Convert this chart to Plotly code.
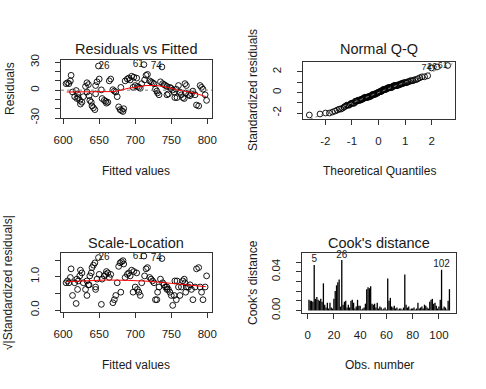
import numpy as np
from statistics import NormalDist
import plotly.graph_objects as go

W, H = 486, 389

fitted = [604, 606, 608, 611, 613, 616, 619, 621, 623, 624,
          620, 628, 626, 631, 633, 635, 633, 636, 637, 639,
          640, 642, 644, 645, 647, 649, 650, 645, 653, 654,
          657, 659, 660, 662, 664, 666, 669, 671, 673, 675,
          677, 679, 681, 683, 684, 686, 689, 691, 693, 697,
          700, 703, 705, 707, 709, 722, 713, 715, 717, 720,
          712, 724, 726, 728, 730, 731, 746, 735, 738, 740,
          742, 744, 744, 737, 748, 750, 752, 754, 755, 758,
          760, 762, 764, 766, 768, 769, 771, 774, 776, 778,
          780, 783, 785, 788, 790, 792, 794, 797, 799, 610,
          618, 698, 702, 733, 757, 770, 695, 680]
residuals = [7, 8, 7, 16, -2, -7, -9, -8, -11, -15,
             -4, -7, -13, 4, 8, 6, -2, -6, -11, -13,
             -17, -19, -21, 5, 9, 26, 12, -4, 0.3, -9,
             -11, -12, -14, -13, 10, 12, 0.5, -1, -2, -7,
             -18, -21, -22, -23, -20, 10, 12, 13, 11, 3,
             5, 4, 3, 2, 7, 9, 11, 16, 17, 10,
             27.5, 8, 7, 1, -1, -3, -4, 9, 7, 6,
             5, 4, -5, 25, 3, 2, 0.2, -2, -8, -8,
             5, -2, -5, -8, -9, 7, 5, -5, -6, -4,
             -1, -5, -16, -17, 5, 3, 1, -5, -11, 10,
             -0.4, 14, 13, -5, 1, -3, 15, 3]
cooks = [0.011, 0.010, 0.010, 0.009, 0.047, 0.012, 0.014, 0.011, 0.010, 0.012,
         0.009, 0.028, 0.006, 0.003, 0.008, 0.002, 0.008, 0.003, 0.002, 0.012,
         0.020, 0.026, 0.029, 0.032, 0.004, 0.052, 0.006, 0.009, 0.010, 0.003,
         0.006, 0.003, 0.010, 0.011, 0.008, 0.002, 0.004, 0.011, 0.005, 0.005,
         0.001, 0.002, 0.003, 0.007, 0.022, 0.024, 0.023, 0.025, 0.007, 0.006,
         0.007, 0.003, 0.008, 0.002, 0.004, 0.003, 0.001, 0.002, 0.003, 0.001,
         0.033, 0.010, 0.013, 0.004, 0.003, 0.005, 0.002, 0.003, 0.001, 0.002,
         0.002, 0.001, 0.003, 0.037, 0.006, 0.003, 0.004, 0.001, 0.002, 0.002,
         0.003, 0.001, 0.002, 0.008, 0.002, 0.003, 0.004, 0.002, 0.006, 0.005,
         0.003, 0.002, 0.009, 0.011, 0.012, 0.007, 0.008, 0.005, 0.002, 0.004,
         0.011, 0.042, 0.002, 0.004, 0.003, 0.001, 0.010, 0.022]
sigma = 10.5

lowess_rf_x = [605, 620, 640, 660, 670, 680, 690, 700, 715, 730, 745, 760, 775, 790, 798]
lowess_rf_y = [-2, -2, -2, -2, -1.5, 0, 2, 3, 5, 5, 3, 0, -2, -5, -7]
lowess_sl_x = [605, 630, 660, 690, 720, 750, 775, 798]
lowess_sl_y = [0.85, 0.88, 0.9, 0.89, 0.86, 0.8, 0.75, 0.7]

# ---- derived ----
obs = np.arange(1, len(fitted) + 1)
fitted_a = np.array(fitted, float)
std = np.array(residuals, float) / sigma
sqrt_abs = np.sqrt(np.abs(std))
n = len(std)
order = np.argsort(std)
theo = np.array([NormalDist().inv_cdf((i + 0.5) / n) for i in range(n)])
qq_y = std[order]
qq_ids = obs[order]
top_res = np.argsort(-np.abs(std))[:3]
top_cook = np.argsort(-np.array(cooks))[:3]

FONT = "Liberation Sans, Arial, sans-serif"
TXT = "#1a1a1a"

def dx(a, b):
    return [a / W, b / W]

def dy(top, bottom):
    return [1 - bottom / H, 1 - top / H]

fig = go.Figure()
mk = dict(symbol="circle-open", size=5.8, color="black", line=dict(width=0.9, color="black"))

# panel 1
fig.add_trace(go.Scatter(x=fitted, y=residuals, mode="markers", marker=mk, xaxis="x", yaxis="y"))
fig.add_trace(go.Scatter(x=lowess_rf_x, y=lowess_rf_y, mode="lines", line=dict(color="red", width=1),
                         xaxis="x", yaxis="y"))
mid = (fitted_a.min() + fitted_a.max()) / 2
for i in top_res:
    fig.add_trace(go.Scatter(x=[fitted[i]], y=[residuals[i]], mode="text", text=[str(obs[i])],
                             textposition="middle left" if fitted[i] > mid else "middle right",
                             textfont=dict(size=10, color=TXT, family=FONT), xaxis="x", yaxis="y"))

# panel 2
fig.add_trace(go.Scatter(x=theo, y=qq_y, mode="markers", marker=mk, xaxis="x2", yaxis="y2"))
q_y = np.quantile(std, [0.25, 0.75])
q_x = np.array([NormalDist().inv_cdf(0.25), NormalDist().inv_cdf(0.75)])
slope = (q_y[1] - q_y[0]) / (q_x[1] - q_x[0])
inter = q_y[0] - slope * q_x[0]
lx = np.array([-3.0, 3.0])
fig.add_trace(go.Scatter(x=lx, y=inter + slope * lx, mode="lines",
                         line=dict(color="gray", width=1, dash="dot"), xaxis="x2", yaxis="y2"))
for k in range(n - 3, n):
    fig.add_trace(go.Scatter(x=[theo[k]], y=[qq_y[k]], mode="text", text=[str(qq_ids[k])],
                             textposition="middle left",
                             textfont=dict(size=9, color=TXT, family=FONT), xaxis="x2", yaxis="y2"))

# panel 3
fig.add_trace(go.Scatter(x=fitted, y=sqrt_abs, mode="markers", marker=mk, xaxis="x3", yaxis="y3"))
fig.add_trace(go.Scatter(x=lowess_sl_x, y=lowess_sl_y, mode="lines", line=dict(color="red", width=1),
                         xaxis="x3", yaxis="y3"))
for i in top_res:
    fig.add_trace(go.Scatter(x=[fitted[i]], y=[sqrt_abs[i]], mode="text", text=[str(obs[i])],
                             textposition="middle left" if fitted[i] > mid else "middle right",
                             textfont=dict(size=10, color=TXT, family=FONT), xaxis="x3", yaxis="y3"))

# panel 4
bx, by = [], []
for o, c in zip(obs, cooks):
    bx += [o, o, None]
    by += [0, c, None]
fig.add_trace(go.Scatter(x=bx, y=by, mode="lines", line=dict(color="black", width=1.3),
                         xaxis="x4", yaxis="y4"))
for i in top_cook:
    fig.add_trace(go.Scatter(x=[obs[i]], y=[cooks[i]], mode="text", text=[str(obs[i])],
                             textposition="top center", cliponaxis=False,
                             textfont=dict(size=10, color=TXT, family=FONT), xaxis="x4", yaxis="y4"))

fig.add_shape(type="line", xref="x", yref="y", x0=597, x1=806.5, y0=0, y1=0,
              line=dict(color="gray", width=1, dash="dot"))

def ax(domain, rng, tickvals, ticktext, anchor, is_y=False):
    d = dict(domain=domain, range=rng, tickvals=tickvals, ticktext=ticktext, anchor=anchor,
             automargin=False, fixedrange=True,
             showgrid=False, zeroline=False, showline=True, mirror=True, linecolor="#333",
             linewidth=1, ticks="outside", ticklen=5, tickcolor="#333", tickwidth=1,
             tickfont=dict(size=11.5, color=TXT, family=FONT))
    if is_y:
        d.update(tickangle=-90, ticklabelstandoff=11)
    else:
        d.update(ticklabelstandoff=6)
    return d

xt_f = [600, 650, 700, 750, 800]
layout = dict(
    template="none",
    width=W, height=H, margin=dict(l=0, r=0, t=0, b=0, pad=0), showlegend=False,
    paper_bgcolor="white", plot_bgcolor="white",
    xaxis=ax(dx(61, 212), [597, 806.5], xt_f, [str(v) for v in xt_f], "y"),
    yaxis=ax(dy(60, 118), [-30, 32.5], [-30, -20, -10, 0, 10, 20, 30],
             ["-30", "", "", "0", "", "", "30"], "x", True),
    xaxis2=ax(dx(303, 455), [-2.84, 2.875], [-2, -1, 0, 1, 2], ["-2", "-1", "0", "1", "2"], "y2"),
    yaxis2=ax(dy(62, 119), [-2.58, 2.96], [-2, -1, 0, 1, 2], ["-2", "", "0", "", "2"], "x2", True),
    xaxis3=ax(dx(61, 212), [597, 806.5], xt_f, [str(v) for v in xt_f], "y3"),
    yaxis3=ax(dy(253, 312), [-0.06, 1.71], [0, 0.5, 1.0, 1.5], ["0.0", "", "1.0", ""], "x3", True),
    xaxis4=ax(dx(302, 456), [-4.3, 113], [0, 20, 40, 60, 80, 100],
              ["0", "20", "40", "60", "80", "100"], "y4"),
    yaxis4=ax(dy(253, 313), [-0.0026, 0.0593], [0, 0.01, 0.02, 0.03, 0.04, 0.05],
              ["0.00", "", "", "", "0.04", ""], "x4", True),
)
fig.update_layout(**layout)

def note(text, cx, cy, size, angle=0):
    fig.add_annotation(text=text, x=cx / W, y=1 - cy / H, xref="paper", yref="paper",
                       showarrow=False, xanchor="center", yanchor="middle", textangle=angle,
                       font=dict(size=size, color=TXT, family=FONT))

note("Residuals vs Fitted", 136, 49, 14.5)
note("Normal Q-Q", 379, 49, 14.5)
note("Scale-Location", 136, 243, 14.5)
note("Cook's distance", 379, 243, 14.5)
note("Fitted values", 136, 171, 12)
note("Theoretical Quantiles", 379, 171, 12)
note("Fitted values", 136, 365, 12)
note("Obs. number", 379, 365, 12)
note("Residuals", 10, 89, 12, -90)
note("Standardized residuals", 253, 90, 12, -90)
note("√|Standardized residuals|", 8, 283, 12, -90)
note("Cook's distance", 253, 283, 12, -90)

fig.write_html("out.html", config={"displayModeBar": False},
               post_script="document.body.style.margin='0px';document.body.style.padding='0px';")
